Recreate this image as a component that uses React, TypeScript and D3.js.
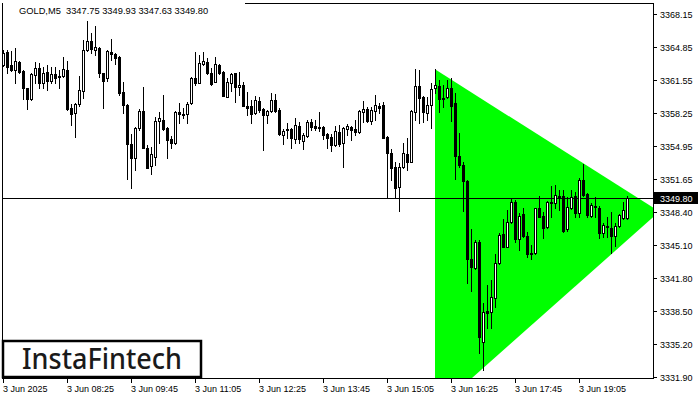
import React from "react";
import * as d3 from "d3";

// GOLD M5 candles, 3 Jun 2025 07:05 .. 20:05
const opens = [
  3363.05, 3364.38, 3363.05, 3362.55, 3363.32, 3362.45, 3360.72, 3359.65, 3362.02, 3362.72,
  3361.28, 3362.32, 3361.45, 3362.15, 3361.95, 3361.95, 3362.55, 3358.72, 3358.22, 3359.12,
  3360.48, 3364.55, 3365.45, 3364.55, 3364.72, 3362.22, 3361.72, 3364.35, 3364.15, 3363.82,
  3360.38, 3359.05, 3355.12, 3353.72, 3356.78, 3358.48, 3354.78, 3352.98, 3353.82, 3357.48,
  3357.55, 3356.78, 3355.65, 3355.22, 3358.32, 3358.15, 3358.12, 3359.22, 3361.78, 3361.28,
  3363.15, 3363.38, 3362.28, 3361.38, 3363.05, 3362.38, 3359.88, 3361.28, 3362.22, 3360.82,
  3361.05, 3358.95, 3358.98, 3358.22, 3359.45, 3358.65, 3358.05, 3358.48, 3359.55, 3358.55,
  3356.08, 3356.65, 3356.65, 3355.62, 3356.95, 3355.48, 3355.95, 3357.38, 3356.95, 3356.85,
  3356.82, 3356.15, 3355.88, 3355.05, 3356.38, 3355.22, 3356.62, 3356.82, 3356.65, 3356.38,
  3358.32, 3358.65, 3357.48, 3358.48, 3358.95, 3359.05, 3355.88, 3354.22, 3352.88, 3350.88,
  3352.82, 3354.12, 3353.38, 3358.38, 3360.95, 3359.82, 3358.22, 3359.05, 3360.72, 3360.95,
  3359.78, 3359.88, 3360.72, 3359.22, 3353.95, 3353.05, 3351.45, 3343.62, 3342.72, 3345.32,
  3335.38, 3338.45, 3338.38, 3339.72, 3343.22, 3346.15, 3344.88, 3347.32, 3349.32, 3345.65,
  3348.12, 3345.95, 3344.22, 3344.28, 3348.72, 3347.95, 3346.82, 3349.22, 3349.22, 3349.95,
  3349.95, 3346.62, 3348.72, 3349.95, 3348.22, 3351.55, 3350.15, 3347.98, 3348.95, 3348.72,
  3346.28, 3346.95, 3346.72, 3345.98, 3346.95, 3347.72, 3347.75,
];

const highs = [
  3364.55, 3364.55, 3364.45, 3364.72, 3363.45, 3362.55, 3360.78, 3362.22, 3363.38, 3363.22,
  3362.88, 3363.05, 3362.88, 3362.88, 3362.55, 3363.82, 3363.48, 3359.12, 3359.28, 3361.95,
  3365.55, 3367.45, 3366.22, 3366.95, 3364.88, 3362.28, 3364.55, 3365.65, 3364.28, 3363.95,
  3361.38, 3359.12, 3356.12, 3356.88, 3358.65, 3360.88, 3355.05, 3354.88, 3357.88, 3358.38,
  3360.05, 3356.88, 3355.95, 3358.48, 3359.28, 3358.78, 3359.38, 3361.88, 3364.38, 3364.05,
  3364.38, 3363.72, 3362.72, 3363.82, 3363.15, 3362.45, 3361.72, 3362.28, 3362.28, 3362.32,
  3361.38, 3360.38, 3359.55, 3359.95, 3359.88, 3358.72, 3358.55, 3360.22, 3360.15, 3358.72,
  3356.62, 3357.22, 3356.72, 3357.72, 3357.38, 3356.28, 3357.55, 3357.65, 3357.55, 3358.38,
  3356.95, 3356.22, 3356.12, 3356.95, 3357.05, 3356.88, 3357.15, 3356.95, 3357.55, 3358.55,
  3359.45, 3358.88, 3358.88, 3360.05, 3359.28, 3359.38, 3355.95, 3354.62, 3353.38, 3353.28,
  3355.22, 3355.72, 3358.55, 3362.62, 3362.55, 3360.0, 3359.88, 3361.3, 3362.62, 3361.55,
  3361.05, 3361.55, 3361.72, 3360.22, 3356.22, 3353.38, 3351.55, 3346.65, 3345.55, 3345.55,
  3339.22, 3341.05, 3341.55, 3344.15, 3346.22, 3347.62, 3348.55, 3349.62, 3349.55, 3348.22,
  3348.72, 3346.38, 3345.05, 3348.78, 3349.95, 3348.38, 3349.48, 3350.95, 3351.05, 3350.55,
  3350.55, 3349.88, 3350.55, 3350.38, 3351.72, 3353.15, 3350.22, 3349.22, 3349.88, 3348.98,
  3347.22, 3347.88, 3348.38, 3347.22, 3348.15, 3349.38, 3349.93,
];

const lows = [
  3362.95, 3362.22, 3362.48, 3361.28, 3362.22, 3359.62, 3358.65, 3359.55, 3361.22, 3360.72,
  3360.72, 3360.55, 3361.22, 3361.28, 3360.72, 3361.88, 3358.55, 3357.05, 3355.88, 3358.95,
  3359.72, 3364.48, 3364.22, 3364.05, 3361.88, 3358.72, 3361.45, 3363.55, 3363.12, 3360.05,
  3358.28, 3351.62, 3350.72, 3352.55, 3356.55, 3354.72, 3352.72, 3352.15, 3353.02, 3355.22,
  3356.55, 3353.72, 3354.72, 3355.15, 3357.28, 3357.72, 3357.28, 3359.15, 3361.05, 3361.22,
  3363.05, 3362.12, 3361.08, 3361.35, 3362.15, 3359.95, 3359.82, 3360.48, 3359.38, 3360.05,
  3358.92, 3358.05, 3357.22, 3358.15, 3358.38, 3354.55, 3357.22, 3358.38, 3358.38, 3356.05,
  3355.15, 3355.72, 3354.72, 3355.28, 3355.22, 3354.62, 3355.82, 3356.55, 3356.55, 3356.48,
  3355.62, 3354.72, 3354.48, 3354.95, 3354.95, 3352.88, 3356.05, 3355.55, 3356.05, 3356.28,
  3357.38, 3357.38, 3357.15, 3357.55, 3358.22, 3355.72, 3349.88, 3351.55, 3349.88, 3348.48,
  3352.78, 3352.55, 3353.32, 3357.55, 3357.22, 3357.32, 3357.55, 3356.72, 3360.22, 3358.38,
  3358.88, 3359.72, 3357.48, 3351.65, 3352.88, 3348.48, 3341.28, 3340.48, 3342.65, 3334.22,
  3332.55, 3336.72, 3336.72, 3338.88, 3343.15, 3344.82, 3344.82, 3347.22, 3345.38, 3344.55,
  3345.88, 3343.88, 3343.62, 3344.15, 3347.82, 3345.72, 3346.72, 3347.88, 3348.72, 3348.55,
  3346.38, 3346.48, 3348.65, 3347.88, 3347.82, 3349.95, 3347.82, 3347.88, 3347.88, 3345.72,
  3345.88, 3345.88, 3344.22, 3344.98, 3346.88, 3347.62, 3347.63,
];

const closes = [
  3364.22, 3362.88, 3362.55, 3363.45, 3362.38, 3360.78, 3359.65, 3362.15, 3362.72, 3361.28,
  3362.28, 3361.45, 3362.15, 3361.78, 3361.82, 3362.62, 3358.62, 3358.12, 3359.15, 3360.55,
  3364.55, 3365.45, 3364.65, 3364.82, 3362.22, 3361.45, 3364.45, 3364.12, 3363.72, 3360.28,
  3359.05, 3355.12, 3353.72, 3356.78, 3358.48, 3354.78, 3352.78, 3354.12, 3357.45, 3357.72,
  3356.62, 3355.55, 3355.22, 3358.38, 3358.12, 3358.05, 3359.12, 3361.78, 3361.22, 3363.28,
  3363.45, 3362.22, 3361.15, 3363.12, 3362.28, 3359.98, 3361.38, 3362.15, 3360.82, 3361.05,
  3358.98, 3358.78, 3358.15, 3359.55, 3358.55, 3358.05, 3358.45, 3359.55, 3358.48, 3356.15,
  3356.48, 3356.55, 3355.72, 3357.05, 3355.62, 3356.05, 3357.38, 3356.88, 3356.72, 3356.78,
  3356.05, 3355.72, 3355.05, 3356.48, 3355.15, 3356.78, 3356.98, 3356.55, 3356.38, 3358.45,
  3358.65, 3357.48, 3358.55, 3359.05, 3358.78, 3355.78, 3354.22, 3352.78, 3350.72, 3352.82,
  3354.22, 3353.32, 3358.45, 3360.98, 3359.72, 3358.38, 3359.05, 3360.62, 3361.05, 3359.62,
  3359.62, 3360.72, 3358.98, 3353.98, 3353.05, 3351.48, 3343.62, 3342.82, 3345.32, 3335.88,
  3338.32, 3338.28, 3339.82, 3343.22, 3346.05, 3344.88, 3347.32, 3349.38, 3345.65, 3347.98,
  3345.95, 3344.15, 3344.12, 3348.72, 3347.88, 3346.72, 3349.32, 3349.38, 3350.05, 3349.82,
  3346.48, 3348.88, 3349.82, 3348.28, 3351.55, 3350.05, 3348.05, 3349.05, 3348.82, 3346.22,
  3347.05, 3346.82, 3345.95, 3346.95, 3348.05, 3348.55, 3349.80,
];

const priceTicks = [
  "3368.15", "3364.85", "3361.55", "3358.25", "3354.95", "3351.65",
  "3348.40", "3345.10", "3341.80", "3338.50", "3335.20", "3331.90",
];

const timeLabels = [
  "3 Jun 2025", "3 Jun 08:25", "3 Jun 09:45", "3 Jun 11:05", "3 Jun 12:25",
  "3 Jun 13:45", "3 Jun 15:05", "3 Jun 16:25", "3 Jun 17:45", "3 Jun 19:05",
];
const timeLabelBars = [0, 16, 32, 48, 64, 80, 96, 112, 128, 144];

const symbolName = "GOLD,M5";
const lastQuote = [3347.75, 3349.93, 3347.63, 3349.8];

// symmetrical triangle: upper-left, apex, lower-left (bar index, price)
const triangleBars = [108, 164.1, 108];
const trianglePrices = [3362.62, 3348.4, 3328.49];

const brand = "InstaFintech";

const W = 700;
const H = 400;
const plot = { left: 3, right: 653, top: 4, bottom: 378 };
const font = "'Liberation Sans', Arial, sans-serif";

export default function App() {
  const x = d3.scaleLinear().domain([0, opens.length - 1]).range([3, 3 + 4 * (opens.length - 1)]);
  const y = d3
    .scaleLinear()
    .domain([+priceTicks[priceTicks.length - 1], +priceTicks[0]])
    .range([376.7, 14]);

  const lastClose = lastQuote[3];
  const yLast = Math.round(y(lastClose)) + 0.5;

  const triPoints = triangleBars.map((b, k) => [x(b), y(trianglePrices[k])] as [number, number]);

  const candles = opens.map((o, i) => {
    const c = closes[i];
    const cx = x(i);
    const bull = c >= o;
    const top = Math.round(y(Math.max(o, c)));
    const bot = Math.round(y(Math.min(o, c)));
    const hi = Math.round(y(highs[i]));
    const lo = Math.round(y(lows[i]));
    return (
      <g key={i}>
        <line x1={cx + 0.5} x2={cx + 0.5} y1={hi} y2={lo + 1} stroke="#000" strokeWidth={1} />
        {bot - top >= 1 ? (
          <rect
            x={cx - 0.5}
            y={top + 0.5}
            width={2}
            height={bot - top}
            fill={bull ? "#fff" : "#000"}
            stroke="#000"
            strokeWidth={1}
          />
        ) : (
          <line x1={cx - 1} x2={cx + 2} y1={top + 0.5} y2={top + 0.5} stroke="#000" strokeWidth={1} />
        )}
      </g>
    );
  });

  return (
    <svg
      width={W}
      height={H}
      style={{ position: "absolute", left: 0, top: 0, display: "block", background: "#fff" }}
      fontFamily={font}
    >
      <defs>
        <clipPath id="plotClip">
          <rect x={plot.left} y={plot.top} width={plot.right - plot.left} height={plot.bottom - plot.top} />
        </clipPath>
      </defs>
      <rect x={0} y={0} width={W} height={H} fill="#fff" />

      <g clipPath="url(#plotClip)">
        <polygon points={triPoints.map((p) => p.join(",")).join(" ")} fill="#00ff00" />
        <line x1={plot.left} x2={plot.right} y1={yLast} y2={yLast} stroke="#000" strokeWidth={1} />
        {candles}
      </g>

      {/* frame */}
      <line x1={2.5} x2={2.5} y1={3} y2={379} stroke="#000" />
      <line x1={2} x2={654} y1={378.5} y2={378.5} stroke="#000" />
      <line x1={653.5} x2={653.5} y1={3} y2={379} stroke="#000" />
      <line x1={245} x2={654} y1={3.5} y2={3.5} stroke="#000" />

      {/* price axis */}
      {priceTicks.map((t) => {
        const py = Math.round(y(+t)) + 0.5;
        return (
          <g key={t}>
            <line x1={654} x2={657} y1={py} y2={py} stroke="#000" />
            <text x={660} y={py} dy="0.35em" fontSize={9} fill="#000">
              {t}
            </text>
          </g>
        );
      })}
      <rect x={654} y={yLast - 6.5} width={44} height={12} fill="#000" />
      <text x={660} y={yLast} dy="0.35em" fontSize={9} fill="#fff">
        {lastClose.toFixed(2)}
      </text>

      {/* time axis */}
      {timeLabels.map((t, k) => {
        const tx = x(timeLabelBars[k]) + 0.5;
        return (
          <g key={t}>
            <line x1={tx} x2={tx} y1={379} y2={383} stroke="#000" />
            <text x={tx - 0.5} y={392} fontSize={9} fill="#000">
              {t}
            </text>
          </g>
        );
      })}

      {/* header */}
      <text x={19} y={14} fontSize={9.3} fill="#000" xmlSpace="preserve">
        {`${symbolName}  ${lastQuote.map((v) => v.toFixed(2)).join(" ")}`}
      </text>

      {/* brand box */}
      <rect x={3} y={341} width={198} height={36} fill="#fff" stroke="#000" strokeWidth={2.5} />
      <text
        x={22}
        y={369}
        fontSize={28}
        fontFamily="'Noto Sans', 'Open Sans', sans-serif"
        fontWeight={500}
        fill="#1a1a1a"
        textLength={160}
        lengthAdjust="spacingAndGlyphs"
      >
        {brand}
      </text>
    </svg>
  );
}
